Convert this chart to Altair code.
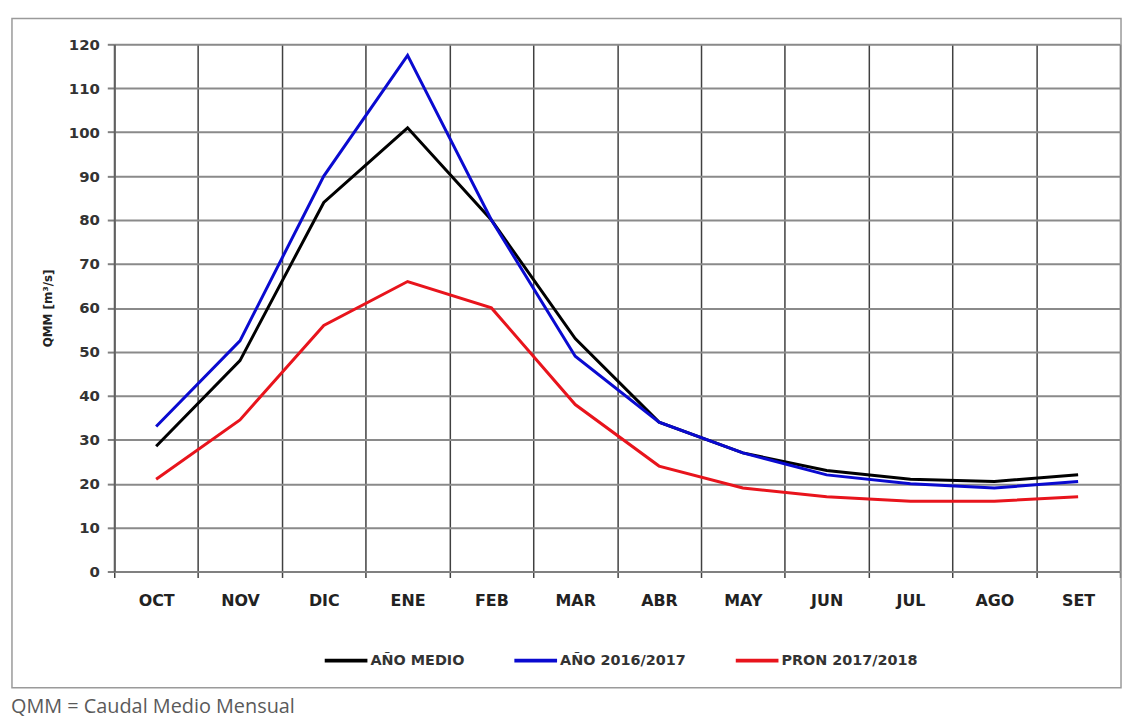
import altair as alt
import pandas as pd

months = ["OCT", "NOV", "DIC", "ENE", "FEB", "MAR", "ABR", "MAY", "JUN", "JUL", "AGO", "SET"]
series_names = ["AÑO MEDIO", "AÑO 2016/2017", "PRON 2017/2018"]
anio_medio = [28.5, 48, 84, 101, 80, 53, 34, 27, 23, 21, 20.5, 22]
anio_2016 = [33, 52.5, 90, 117.5, 80, 49, 34, 27, 22, 20, 19, 20.5]
pron_2017 = [21, 34.5, 56, 66, 60, 38, 24, 19, 17, 16, 16, 17]
colors = ["#000000", "#0a0ad0", "#e8141c"]
y_ticks = list(range(0, 121, 10))
caption = "QMM = Caudal Medio Mensual"

rows = []
for name, vals in zip(series_names, [anio_medio, anio_2016, pron_2017]):
    for m, v in zip(months, vals):
        rows.append({"Mes": m, "QMM": v, "Serie": name})
df = pd.DataFrame(rows)

W, H = 1013, 531
font = "DejaVu Sans"

lines = alt.Chart(df).mark_line(strokeWidth=3, clip=False).encode(
    x=alt.X("Mes:N", sort=months, scale=alt.Scale(type="band", paddingInner=0, paddingOuter=0),
            axis=alt.Axis(title=None, tickBand="extent", labelAngle=0, labelFont=font,
                          labelFontWeight="bold", labelFontSize=16, labelColor="#222222",
                          labelPadding=15, tickSize=6, tickColor="#404040", tickWidth=1.5,
                          grid=True, gridColor="#404040", gridWidth=1.5,
                          domain=True, domainColor="#808080", domainWidth=2)),
    y=alt.Y("QMM:Q", scale=alt.Scale(domain=[0, 120], nice=False),
            axis=alt.Axis(values=y_ticks, title="QMM [m³/s]", titleFont=font, titleFontSize=12,
                          titleFontWeight="bold", titleColor="#222222", titlePadding=14,
                          labelFont=font, labelFontWeight="bold", labelFontSize=15,
                          labelColor="#333333", labelPadding=8, tickSize=7,
                          tickColor="#808080", tickWidth=2,
                          grid=True, gridColor="#8a8a8a", gridWidth=2,
                          domain=True, domainColor="#606060", domainWidth=2)),
    color=alt.Color("Serie:N", sort=series_names,
                    scale=alt.Scale(domain=series_names, range=colors),
                    legend=alt.Legend(title=None, orient="none", direction="horizontal",
                                      legendX=210, legendY=597, columns=3,
                                      symbolType="stroke", symbolSize=1849,
                                      symbolStrokeWidth=4, labelFont=font,
                                      labelFontSize=14.5, labelFontWeight="bold",
                                      labelColor="#333333", labelOffset=1,
                                      columnPadding=42)),
    order=alt.Order("ord:Q"),
).transform_calculate(ord="datum.Serie == 'AÑO MEDIO' ? 2 : (datum.Serie == 'AÑO 2016/2017' ? 1 : 0)")

frame = alt.Chart(pd.DataFrame({"k": [0]})).mark_rect(
    fill=None, stroke="#9a9a9a", strokeWidth=1.5, clip=False
).encode(x=alt.value(-103), x2=alt.value(1014), y=alt.value(-26), y2=alt.value(648))

cap = alt.Chart(pd.DataFrame({"t": [caption]})).mark_text(
    align="left", baseline="alphabetic", font="Open Sans", fontSize=20, color="#5a5a5a", clip=False
).encode(text="t:N", x=alt.value(-104), y=alt.value(674))

chart = alt.layer(frame, lines, cap).properties(
    width=W, height=H,
    autosize=alt.AutoSizeParams(type="none"),
    padding={"left": 107, "top": 34, "right": 3, "bottom": 148},
).configure_view(stroke="#808080", strokeWidth=2).configure(background="white")

chart.save("out.html", embed_options={"renderer": "svg", "actions": False})
